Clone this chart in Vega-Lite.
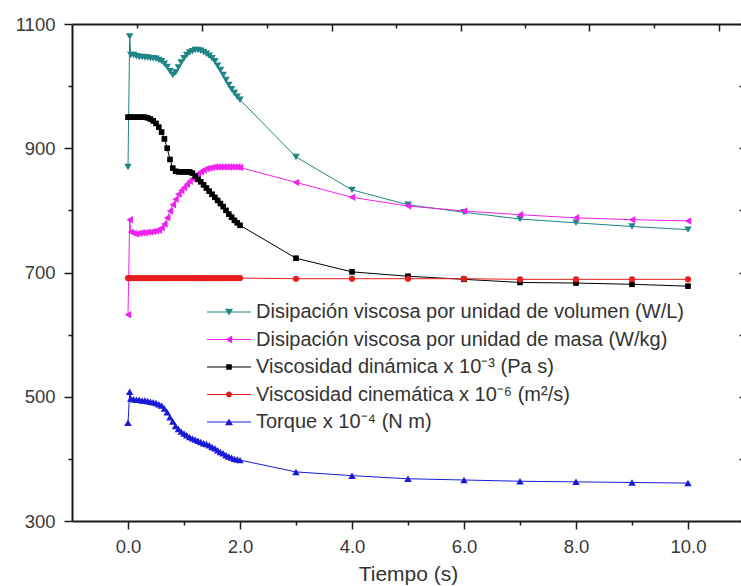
{
  "$schema": "https://vega.github.io/schema/vega-lite/v6.json",
  "autosize": {"type": "none"},
  "padding": {"left": 72, "top": 24, "right": 0, "bottom": 65},
  "width": 672,
  "height": 497,
  "background": "white",
  "config": {
    "view": {"stroke": null},
    "axis": {"grid": false, "domainColor": "#1a1a1a", "domainWidth": 2, "tickColor": "#1a1a1a", "tickWidth": 1.5, "labelFont": "Liberation Sans", "labelFontSize": 18.5, "labelColor": "#3a3a3a", "titleFont": "Liberation Sans", "titleFontWeight": "normal", "titleColor": "#333333"}
  },
  "data": {"values": [
    {"t":0,"vol":870,"masa":632,"din":950,"cin":691,"tor":458},
    {"t":0.03,"vol":1080,"masa":785,"din":950,"cin":691,"tor":508},
    {"t":0.05,"vol":1050,"masa":765,"din":950,"cin":691,"tor":497},
    {"t":0.1,"vol":1050,"masa":763,"din":950,"cin":691,"tor":496},
    {"t":0.15,"vol":1048,"masa":762,"din":950,"cin":691,"tor":495},
    {"t":0.2,"vol":1047,"masa":763,"din":950,"cin":691,"tor":495},
    {"t":0.25,"vol":1047,"masa":764,"din":950,"cin":691,"tor":494},
    {"t":0.3,"vol":1046,"masa":764,"din":950,"cin":691,"tor":494},
    {"t":0.35,"vol":1046,"masa":765,"din":949,"cin":691,"tor":493},
    {"t":0.4,"vol":1045,"masa":765,"din":947,"cin":691,"tor":492},
    {"t":0.45,"vol":1045,"masa":766,"din":944,"cin":691,"tor":491},
    {"t":0.5,"vol":1044,"masa":767,"din":940,"cin":691,"tor":490},
    {"t":0.55,"vol":1042,"masa":768,"din":934,"cin":691,"tor":488},
    {"t":0.6,"vol":1040,"masa":772,"din":926,"cin":691,"tor":486},
    {"t":0.65,"vol":1036,"masa":778,"din":915,"cin":691,"tor":481},
    {"t":0.7,"vol":1031,"masa":788,"din":900,"cin":691,"tor":475},
    {"t":0.75,"vol":1024,"masa":799,"din":882,"cin":691,"tor":467},
    {"t":0.8,"vol":1018,"masa":809,"din":868,"cin":691,"tor":460},
    {"t":0.85,"vol":1022,"masa":818,"din":863,"cin":691,"tor":453},
    {"t":0.9,"vol":1030,"masa":826,"din":862,"cin":691,"tor":448},
    {"t":0.95,"vol":1038,"masa":832,"din":862,"cin":691,"tor":444},
    {"t":1.0,"vol":1045,"masa":837,"din":862,"cin":691,"tor":441},
    {"t":1.05,"vol":1050,"masa":842,"din":862,"cin":691,"tor":438},
    {"t":1.1,"vol":1054,"masa":847,"din":862,"cin":691,"tor":435},
    {"t":1.15,"vol":1056,"masa":851,"din":860,"cin":691,"tor":433},
    {"t":1.2,"vol":1058,"masa":855,"din":855,"cin":691,"tor":431},
    {"t":1.25,"vol":1058,"masa":859,"din":850,"cin":691,"tor":429},
    {"t":1.3,"vol":1057,"masa":862,"din":846,"cin":691,"tor":427},
    {"t":1.35,"vol":1055,"masa":865,"din":841,"cin":691,"tor":425},
    {"t":1.4,"vol":1052,"masa":867,"din":836,"cin":691,"tor":424},
    {"t":1.45,"vol":1049,"masa":868,"din":831,"cin":691,"tor":422},
    {"t":1.5,"vol":1045,"masa":869,"din":826,"cin":691,"tor":419},
    {"t":1.55,"vol":1040,"masa":870,"din":821,"cin":691,"tor":417},
    {"t":1.6,"vol":1033,"masa":870,"din":816,"cin":691,"tor":414},
    {"t":1.65,"vol":1026,"masa":870,"din":811,"cin":691,"tor":411},
    {"t":1.7,"vol":1018,"masa":870,"din":806,"cin":691,"tor":409},
    {"t":1.75,"vol":1010,"masa":870,"din":800,"cin":691,"tor":406},
    {"t":1.8,"vol":1002,"masa":870,"din":794,"cin":691,"tor":404},
    {"t":1.85,"vol":995,"masa":870,"din":789,"cin":691,"tor":402},
    {"t":1.9,"vol":989,"masa":870,"din":784,"cin":691,"tor":400},
    {"t":1.95,"vol":983,"masa":870,"din":780,"cin":691,"tor":399},
    {"t":2.0,"vol":978,"masa":869,"din":776,"cin":691,"tor":398},
    {"t":3,"vol":886,"masa":845,"din":723,"cin":690,"tor":379},
    {"t":4,"vol":833,"masa":821,"din":701,"cin":690,"tor":373},
    {"t":5,"vol":809,"masa":807,"din":694,"cin":690,"tor":368},
    {"t":6,"vol":797,"masa":799,"din":689,"cin":690,"tor":366},
    {"t":7,"vol":786,"masa":793,"din":684,"cin":689,"tor":364},
    {"t":8,"vol":780,"masa":788,"din":683,"cin":689,"tor":363},
    {"t":9,"vol":774,"masa":785,"din":681,"cin":689,"tor":362},
    {"t":10,"vol":769,"masa":783,"din":678,"cin":689,"tor":361}
  ]},
  "layer": [
    {
      "mark": {"type": "line", "color": "#1f8585", "strokeWidth": 1, "point": {"filled": true, "shape": "triangle-down", "size": 56, "color": "#1f8585", "opacity": 1}},
      "encoding": {
        "x": {"field": "t", "type": "quantitative", "scale": {"domain": [-1, 11], "nice": false, "zero": false},
          "axis": {"orient": "bottom", "title": "Tiempo (s)", "titleFontSize": 21, "titlePadding": 8, "values": [0,1,2,3,4,5,6,7,8,9,10],
            "labelExpr": "datum.value % 2 === 0 ? format(datum.value, '.1f') : ''",
            "tickSize": {"condition": {"test": "datum.value % 2 === 0", "value": 8}, "value": 4}, "labelPadding": 8}},
        "y": {"field": "vol", "type": "quantitative", "scale": {"domain": [300, 1100], "nice": false, "zero": false},
          "axis": {"orient": "left", "title": null, "values": [300,400,500,600,700,800,900,1000,1100],
            "labelExpr": "datum.value % 200 === 100 ? format(datum.value, 'd') : ''",
            "tickSize": {"condition": {"test": "datum.value % 200 === 100", "value": 8}, "value": 4}, "labelPadding": 9}}
      }
    },
    {
      "mark": {"type": "line", "color": "#ee22ee", "strokeWidth": 1, "point": {"filled": true, "shape": "triangle-left", "size": 56, "color": "#ee22ee", "opacity": 1}},
      "encoding": {
        "x": {"field": "t", "type": "quantitative",
          "axis": {"orient": "top", "title": null, "labels": false, "values": [0.16,1.32,2.48,3.64,4.79,5.95,7.09,8.23,9.39,10.55],
            "tickSize": {"condition": {"test": "indexof([1.32,3.64,5.95,8.23,10.55], datum.value) >= 0", "value": -7}, "value": -4}}},
        "y": {"field": "masa", "type": "quantitative",
          "axis": {"orient": "right", "title": null, "labels": false, "values": [300,400,500,600,700,800,900,1000,1100], "tickSize": -5}}
      }
    },
    {
      "mark": {"type": "line", "color": "#000000", "strokeWidth": 1, "point": {"filled": true, "shape": "square", "size": 32, "color": "#000000", "opacity": 1}},
      "encoding": {
        "x": {"field": "t", "type": "quantitative", "axis": null},
        "y": {"field": "din", "type": "quantitative", "axis": null}
      }
    },
    {
      "mark": {"type": "line", "color": "#e81c1c", "strokeWidth": 1, "point": {"filled": true, "shape": "circle", "size": 38, "color": "#e81c1c", "opacity": 1}},
      "encoding": {
        "x": {"field": "t", "type": "quantitative", "axis": null},
        "y": {"field": "cin", "type": "quantitative", "axis": null}
      }
    },
    {
      "mark": {"type": "line", "color": "#1a1ad6", "strokeWidth": 1, "point": {"filled": true, "shape": "triangle-up", "size": 56, "color": "#1a1ad6", "opacity": 1}},
      "encoding": {
        "x": {"field": "t", "type": "quantitative", "axis": null},
        "y": {"field": "tor", "type": "quantitative", "axis": null}
      }
    },
    {
      "transform": [{"fold": ["vol", "masa", "din", "cin", "tor"], "as": ["serie", "valor"]}],
      "mark": {"type": "point", "filled": true, "opacity": 0, "size": 64},
      "encoding": {
        "x": {"field": "t", "type": "quantitative", "axis": null},
        "y": {"field": "valor", "type": "quantitative", "axis": null},
        "color": {"field": "serie", "type": "nominal",
          "scale": {"domain": ["vol", "masa", "din", "cin", "tor"], "range": ["#1f8585", "#ee22ee", "#000000", "#e81c1c", "#1a1ad6"]},
          "legend": {"title": null, "orient": "none", "legendX": 147, "legendY": 278, "padding": 0, "symbolSize": 64, "symbolOpacity": 1, "symbolStrokeWidth": 0, "labelOffset": 17, "labelFont": "Liberation Sans", "labelFontSize": 20, "labelColor": "#333333", "labelLimit": 0, "rowPadding": 7.5,
            "labelExpr": "datum.label === 'vol' ? 'Disipación viscosa por unidad de volumen (W/L)' : datum.label === 'masa' ? 'Disipación viscosa por unidad de masa (W/kg)' : datum.label === 'din' ? 'Viscosidad dinámica x 10⁻³ (Pa s)' : datum.label === 'cin' ? 'Viscosidad cinemática x 10⁻⁶ (m²/s)' : 'Torque x 10⁻⁴ (N m)'"}},
        "shape": {"field": "serie", "type": "nominal",
          "scale": {"domain": ["vol", "masa", "din", "cin", "tor"], "range": [
            "M-5.5,-0.14H5.5V0.14H-5.5Z M-1,-0.8H1L0,0.9Z",
            "M-5.5,-0.14H5.5V0.14H-5.5Z M-0.9,0L0.8,-1V1Z",
            "M-5.5,-0.14H5.5V0.14H-5.5Z M-0.7,-0.7H0.7V0.7H-0.7Z",
            "M-5.5,-0.14H5.5V0.14H-5.5Z M-0.75,0A0.75,0.75,0,1,1,0.75,0A0.75,0.75,0,1,1,-0.75,0Z",
            "M-5.5,-0.14H5.5V0.14H-5.5Z M-1,0.8L0,-0.9L1,0.8Z"]},
          "legend": {"title": null, "orient": "none", "legendX": 147, "legendY": 278, "padding": 0, "symbolSize": 64, "symbolOpacity": 1, "symbolStrokeWidth": 0, "labelOffset": 17, "labelFont": "Liberation Sans", "labelFontSize": 20, "labelColor": "#333333", "labelLimit": 0, "rowPadding": 7.5,
            "labelExpr": "datum.label === 'vol' ? 'Disipación viscosa por unidad de volumen (W/L)' : datum.label === 'masa' ? 'Disipación viscosa por unidad de masa (W/kg)' : datum.label === 'din' ? 'Viscosidad dinámica x 10⁻³ (Pa s)' : datum.label === 'cin' ? 'Viscosidad cinemática x 10⁻⁶ (m²/s)' : 'Torque x 10⁻⁴ (N m)'"}}
      }
    }
  ],
  "resolve": {"axis": {"x": "independent", "y": "independent"}}
}
